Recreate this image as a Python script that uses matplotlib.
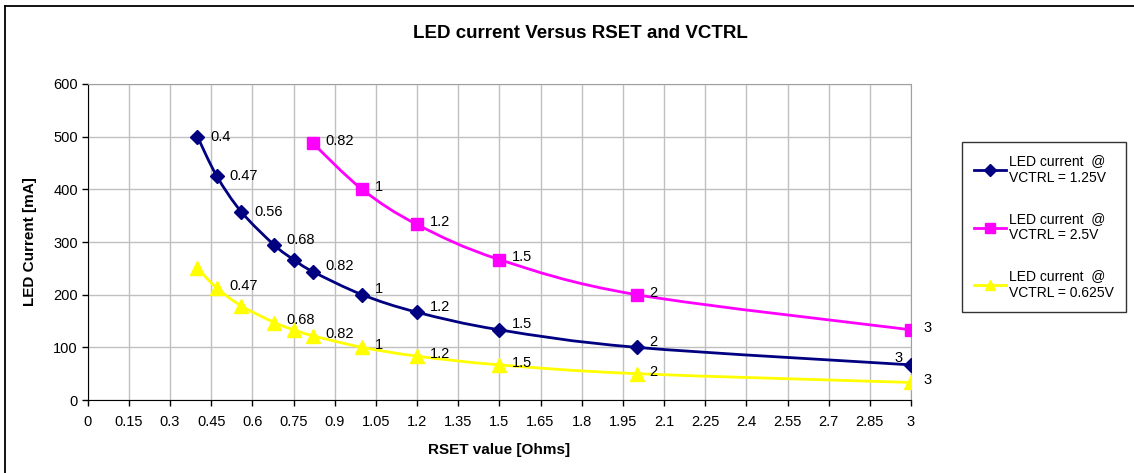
import matplotlib
matplotlib.use("Agg")
import matplotlib.pyplot as plt
from matplotlib.path import Path
from matplotlib.patches import PathPatch
from matplotlib.lines import Line2D
import numpy as np

plt.rcParams['font.family'] = ['Liberation Sans', 'DejaVu Sans']

# ---- data ----
rset_main = [0.4, 0.47, 0.56, 0.68, 0.75, 0.82, 1.0, 1.2, 1.5, 2.0, 3.0]
current_125 = [500, 425.5, 357.1, 294.1, 266.7, 243.9, 200, 166.7, 133.3, 100, 66.7]
labels_125 = ['0.4', '0.47', '0.56', '0.68', '', '0.82', '1', '1.2', '1.5', '2', '3']

rset_25 = [0.82, 1.0, 1.2, 1.5, 2.0, 3.0]
current_25 = [487.8, 400, 333.3, 266.7, 200, 133.3]
labels_25 = ['0.82', '1', '1.2', '1.5', '2', '3']

current_0625 = [250, 212.8, 178.6, 147.1, 133.3, 122.0, 100, 83.3, 66.7, 50, 33.3]
labels_0625 = ['', '0.47', '', '0.68', '', '0.82', '1', '1.2', '1.5', '2', '3']

series_names = ['LED current  @\nVCTRL = 1.25V', 'LED current  @\nVCTRL = 2.5V',
                'LED current  @\nVCTRL = 0.625V']
x_ticks = [0, 0.15, 0.3, 0.45, 0.6, 0.75, 0.9, 1.05, 1.2, 1.35, 1.5, 1.65, 1.8,
           1.95, 2.1, 2.25, 2.4, 2.55, 2.7, 2.85, 3]
y_ticks = [0, 100, 200, 300, 400, 500, 600]

W, H = 1134, 473
fig = plt.figure(figsize=(W / 100, H / 100), dpi=100)
ax = fig.add_axes([87.7 / W, 1 - 400 / H, (911 - 87.7) / W, (400 - 84) / H])

# outer chart border (top & left visible)
fig.add_artist(Line2D([5 / W, 5 / W], [0, 1 - 6.5 / H], transform=fig.transFigure,
                      color='black', lw=1.3))
fig.add_artist(Line2D([5 / W, 1], [1 - 6.5 / H, 1 - 6.5 / H], transform=fig.transFigure,
                      color='black', lw=1.3))


def smooth_path(xs, ys):
    pts = np.column_stack([xs, ys]).astype(float)
    n = len(pts)
    verts = [pts[0]]
    codes = [Path.MOVETO]
    for i in range(n - 1):
        p0 = pts[i - 1] if i > 0 else pts[i]
        p1 = pts[i]
        p2 = pts[i + 1]
        p3 = pts[i + 2] if i + 2 < n else pts[i + 1]
        c1 = p1 + (p2 - p0) / 6.0
        c2 = p2 - (p3 - p1) / 6.0
        verts += [c1, c2, p2]
        codes += [Path.CURVE4] * 3
    return Path(verts, codes)


styles = [
    dict(color='#000080', marker='D', ms=7.5),
    dict(color='#FF00FF', marker='s', ms=8.5),
    dict(color='#FFFF00', marker='^', ms=9.5),
]
data = [(rset_main, current_125, labels_125),
        (rset_25, current_25, labels_25),
        (rset_main, current_0625, labels_0625)]

handles = []
for (xs, ys, labs), st, name in zip(data, styles, series_names):
    ax.add_patch(PathPatch(smooth_path(xs, ys), facecolor='none', edgecolor=st['color'],
                           lw=2.0, zorder=3))
    ax.plot(xs, ys, linestyle='none', marker=st['marker'], ms=st['ms'],
            color=st['color'], mec=st['color'], zorder=4)
    handles.append(Line2D([], [], color=st['color'], lw=2.0, marker=st['marker'],
                          ms=st['ms'] * 0.8, label=name))
    for x, y, lab in zip(xs, ys, labs):
        if not lab:
            continue
        if st['color'] == '#000080' and x == 3.0:
            ax.annotate(lab, (x, y), xytext=(-6, 5), textcoords='offset points',
                        ha='right', va='center', fontsize=10.5, zorder=5)
        else:
            dy = 4 if st['color'] == '#000080' else 1.5
            if st['color'] == '#000080' and x in (0.4, 0.47, 0.56):
                dy = 0
            ax.annotate(lab, (x, y), xytext=(9, dy), textcoords='offset points',
                        ha='left', va='center', fontsize=10.5, zorder=5)

ax.set_xlim(0, 3)
ax.set_ylim(0, 600)
ax.set_xticks(x_ticks)
ax.set_xticklabels([f'{t:g}' for t in x_ticks])
ax.set_yticks(y_ticks)
ax.grid(True, color='#C0C0C0', lw=1.0)
ax.set_axisbelow(True)
for s in ('top', 'right'):
    ax.spines[s].set_color('#A0A0A0')
for s in ('left', 'bottom'):
    ax.spines[s].set_color('black')
ax.tick_params(direction='out', length=4, width=1, labelsize=10.5, pad=7)
ax.tick_params(axis='y', pad=3)

ax.set_xlabel('RSET value [Ohms]', fontsize=11, fontweight='bold', labelpad=10)
ax.set_ylabel('LED Current [mA]', fontsize=11, fontweight='bold', labelpad=12)
fig.text(580 / W, 1 - 33 / H, 'LED current Versus RSET and VCTRL', ha='center',
         va='center', fontsize=13.5, fontweight='bold')

leg = fig.legend(handles=handles, loc='upper left',
                 bbox_to_anchor=(962 / W, 1 - 142 / H), fontsize=10,
                 frameon=True, fancybox=False, edgecolor='black', labelspacing=1.95,
                 handlelength=2.3, handletextpad=0.25, borderpad=0.85,
                 borderaxespad=0)
leg.get_frame().set_linewidth(1.0)
for t in leg.get_texts():
    t.set_linespacing(1.25)

fig.savefig('out.png', dpi=100)
